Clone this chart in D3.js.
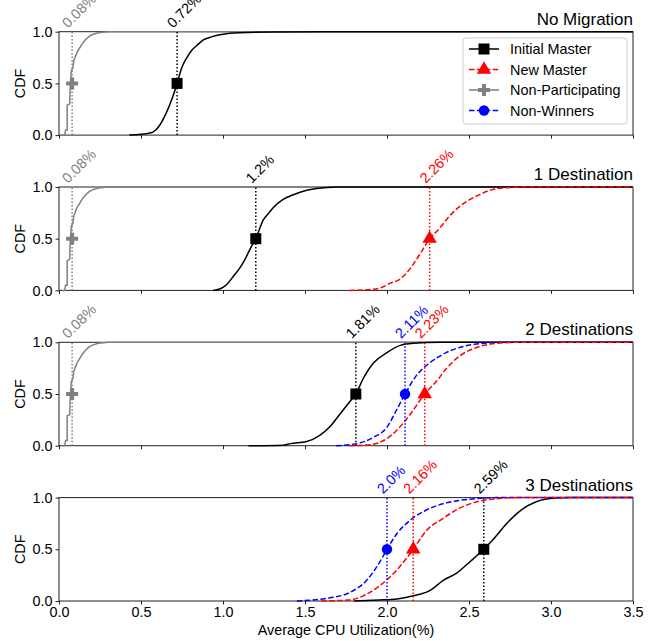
<!DOCTYPE html>
<html>
<head>
<meta charset="utf-8">
<script src="https://cdn.jsdelivr.net/npm/d3@7"></script>
<style>
body { margin: 0; background: #fff; }
text { font-family: "Liberation Sans", Arial, sans-serif; }
</style>
</head>
<body>
<div id="chart"></div>
<script>
// panel titles and series
var panelTitles = ["No Migration", "1 Destination", "2 Destinations", "3 Destinations"];
var seriesNames = ["Initial Master", "New Master", "Non-Participating", "Non-Winners"];
var seriesColors = ["black", "red", "gray", "blue"];
var xTicks = [0, 0.5, 1.0, 1.5, 2.0, 2.5, 3.0, 3.5];
var yTicks = [0, 0.5, 1.0];

// CDF points: [utilization %, cdf]
var nonPart = [[0.02,0],[0.035,0],[0.04,0.05],[0.05,0.05],[0.05,0.29],[0.065,0.3],[0.068,0.45],[0.075,0.62],[0.085,0.65],[0.09,0.72],[0.1,0.76],[0.11,0.8],[0.125,0.84],[0.14,0.88],[0.16,0.92],[0.18,0.95],[0.2,0.97],[0.24,0.99],[0.3,1],[3.5,1]];
var nm_initial = [[0.43,0],[0.555,0.02],[0.59,0.05],[0.616,0.1],[0.65,0.2],[0.677,0.3],[0.7,0.4],[0.72,0.5],[0.748,0.65],[0.78,0.75],[0.81,0.82],[0.85,0.88],[0.88,0.92],[0.93,0.95],[0.98,0.97],[1.1,0.99],[1.3,0.998],[1.6,1],[3.5,1]];
var d1_initial = [[0.94,0],[1.0,0.03],[1.03,0.07],[1.06,0.13],[1.1,0.21],[1.134,0.3],[1.165,0.4],[1.2,0.5],[1.245,0.68],[1.28,0.75],[1.306,0.8],[1.367,0.88],[1.42,0.92],[1.47,0.95],[1.57,0.985],[1.7,1],[3.5,1]];
var d1_new = [[1.77,0],[1.917,0.01],[1.97,0.03],[2.02,0.07],[2.07,0.1],[2.12,0.17],[2.18,0.3],[2.22,0.4],[2.26,0.5],[2.32,0.6],[2.36,0.68],[2.4,0.75],[2.45,0.82],[2.506,0.88],[2.57,0.93],[2.63,0.97],[2.75,0.995],[2.87,1],[3.5,1]];
var d2_initial = [[1.155,0],[1.37,0.005],[1.41,0.02],[1.51,0.04],[1.59,0.1],[1.65,0.18],[1.71,0.3],[1.77,0.42],[1.81,0.5],[1.855,0.65],[1.917,0.8],[2.0,0.9],[2.08,0.97],[2.16,0.99],[2.32,1],[3.5,1]];
var d2_winners = [[1.69,0],[1.815,0.02],[1.917,0.08],[2.0,0.18],[2.06,0.35],[2.11,0.5],[2.18,0.68],[2.26,0.8],[2.36,0.9],[2.465,0.96],[2.587,0.99],[2.71,1],[3.5,1]];
var d2_new = [[1.77,0],[1.896,0.01],[1.98,0.05],[2.06,0.15],[2.14,0.3],[2.23,0.5],[2.3,0.62],[2.364,0.75],[2.445,0.87],[2.547,0.95],[2.67,0.99],[2.79,1],[3.5,1]];
var d3_initial = [[1.8,0],[1.95,0.01],[2.06,0.02],[2.16,0.05],[2.26,0.1],[2.343,0.2],[2.425,0.27],[2.506,0.38],[2.59,0.5],[2.65,0.6],[2.73,0.75],[2.81,0.87],[2.91,0.96],[3.03,0.995],[3.12,1],[3.5,1]];
var d3_new = [[1.6,0],[1.77,0.01],[1.855,0.05],[1.957,0.15],[2.06,0.3],[2.16,0.5],[2.24,0.68],[2.343,0.8],[2.445,0.9],[2.547,0.96],[2.67,0.99],[2.79,1],[3.5,1]];
var d3_winners = [[1.45,0],[1.65,0.03],[1.77,0.08],[1.876,0.2],[1.957,0.38],[2.0,0.5],[2.06,0.65],[2.14,0.78],[2.24,0.88],[2.364,0.95],[2.506,0.985],[2.67,1],[3.5,1]];

// per panel: curve for each series (index into seriesNames), null if absent
var panelCurves = [
  [nm_initial, null, nonPart, null],
  [d1_initial, d1_new, nonPart, null],
  [d2_initial, d2_new, nonPart, d2_winners],
  [d3_initial, d3_new, null, d3_winners]
];
// medians and their labels
var medians = [
  [0.72, null, 0.08, null],
  [1.2, 2.26, 0.08, null],
  [1.81, 2.23, 0.08, 2.11],
  [2.59, 2.16, null, 2.0]
];
var medianLabels = [
  ["0.72%", null, "0.08%", null],
  ["1.2%", "2.26%", "0.08%", null],
  ["1.81%", "2.23%", "0.08%", "2.11%"],
  ["2.59%", "2.16%", null, "2.0%"]
];

var width = 657, height = 641;
var left = 59, right = 633, panelTop = 31.7, panelStep = 155.3, panelH = 103.4;
var fs = 14.4;

var svg = d3.select("#chart").append("svg")
  .attr("width", width).attr("height", height);

var x = d3.scaleLinear().domain([0, 3.5]).range([left, right]);
var dashes = ["none", "5.5,2.4", "none", "5.5,2.4"];
var symbols = [d3.symbolSquare, d3.symbolTriangle, d3.symbolCross, d3.symbolCircle];
var symSizes = [121, 90, 80, 85];

panelTitles.forEach(function(title, p) {
  var top = panelTop + p * panelStep;
  var y = d3.scaleLinear().domain([0, 1]).range([top + panelH, top]);
  var g = svg.append("g");

  // frame
  g.append("rect").attr("x", left).attr("y", top)
    .attr("width", right - left).attr("height", panelH)
    .attr("fill", "none").attr("stroke", "#222").attr("stroke-width", 1);

  var xAxis = d3.axisBottom(x).tickValues(xTicks).tickSize(3.5).tickPadding(2)
    .tickFormat(p == 3 ? d3.format(".1f") : "");
  var ax = g.append("g").attr("transform", "translate(0," + (top + panelH) + ")").call(xAxis);
  var yAxis = d3.axisLeft(y).tickValues(yTicks).tickSize(3.5).tickPadding(3).tickFormat(d3.format(".1f"));
  var ay = g.append("g").attr("transform", "translate(" + left + ",0)").call(yAxis);
  [ax, ay].forEach(function(a) {
    a.select(".domain").remove();
    a.selectAll("line").attr("stroke", "#222");
    a.selectAll("text").attr("font-size", fs).attr("fill", "#000")
      .style("font-family", "'Liberation Sans', Arial, sans-serif");
  });

  g.append("text").attr("transform", "translate(25," + (top + panelH / 2) + ") rotate(-90)")
    .attr("text-anchor", "middle").attr("font-size", fs).text("CDF");

  g.append("text").attr("x", right).attr("y", top - 7)
    .attr("text-anchor", "end").attr("font-size", 17).text(title);

  // gray curve is step-like, the others smooth
  var stepLine = d3.line().x(function(d) { return x(d[0]); }).y(function(d) { return y(d[1]); });
  var smoothLine = d3.line().curve(d3.curveMonotoneX)
    .x(function(d) { return x(d[0]); }).y(function(d) { return y(d[1]); });

  // draw order: gray, black, blue, red
  [2, 0, 3, 1].forEach(function(s) {
    var data = panelCurves[p][s];
    if (!data) return;
    g.append("path").attr("d", (s == 2 ? stepLine : smoothLine)(data))
      .attr("fill", "none").attr("stroke", seriesColors[s])
      .attr("stroke-width", 1.5).attr("stroke-dasharray", dashes[s]);
  });

  [2, 0, 3, 1].forEach(function(s) {
    var m = medians[p][s];
    if (m == null) return;
    g.append("line").attr("x1", x(m)).attr("x2", x(m))
      .attr("y1", y(0)).attr("y2", y(1))
      .attr("stroke", seriesColors[s]).attr("stroke-width", 1.5)
      .attr("stroke-dasharray", "1.5,2");
    g.append("path").attr("d", d3.symbol().type(symbols[s]).size(symSizes[s])())
      .attr("transform", "translate(" + x(m) + "," + y(0.5) + ")")
      .attr("fill", seriesColors[s]);
    g.append("text")
      .attr("transform", "translate(" + (x(m) - 4) + "," + (top - 3) + ") rotate(-45)")
      .attr("font-size", fs).attr("fill", seriesColors[s])
      .text(medianLabels[p][s]);
  });
});

// legend in the first panel
var lg = svg.append("g").attr("transform", "translate(463,38)");
lg.append("rect").attr("width", 164).attr("height", 86).attr("rx", 3)
  .attr("fill", "white").attr("fill-opacity", 0.8)
  .attr("stroke", "#ccc").attr("stroke-width", 1);
seriesNames.forEach(function(name, i) {
  var yy = 11 + i * 20.5;
  lg.append("line").attr("x1", 6).attr("x2", 36).attr("y1", yy).attr("y2", yy)
    .attr("stroke", seriesColors[i]).attr("stroke-width", 1.5)
    .attr("stroke-dasharray", dashes[i]);
  lg.append("path").attr("d", d3.symbol().type(symbols[i]).size(symSizes[i])())
    .attr("transform", "translate(21," + yy + ")").attr("fill", seriesColors[i]);
  lg.append("text").attr("x", 47).attr("y", yy + 5).attr("font-size", fs).text(name);
});

svg.append("text").attr("x", (left + right) / 2).attr("y", 635)
  .attr("text-anchor", "middle").attr("font-size", fs)
  .text("Average CPU Utilization(%)");
</script>
</body>
</html>
